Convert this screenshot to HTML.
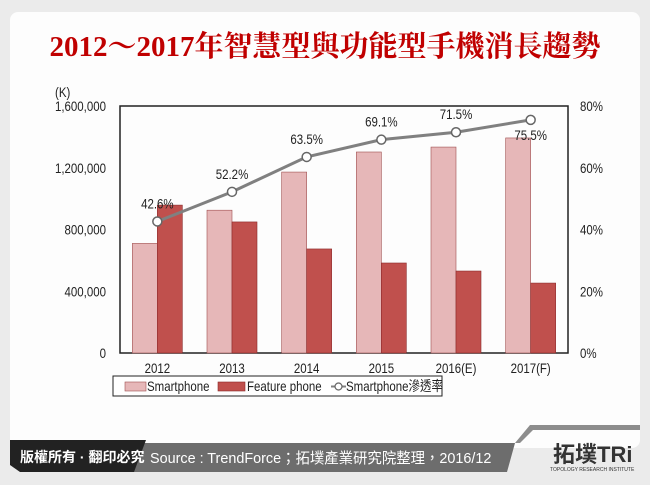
<!DOCTYPE html>
<html><head><meta charset="utf-8"><style>
body{margin:0;width:650px;height:485px;background:#ebebeb;overflow:hidden;font-family:"Liberation Sans","Noto Sans CJK TC",sans-serif}
#card{position:absolute;left:10px;top:12px;width:630px;height:436px;background:#fdfdfd;border-radius:8px}
#title{position:absolute;left:0;top:24px;width:650px;text-align:center;font-family:"Liberation Serif","Noto Serif CJK SC",serif;font-weight:bold;font-size:29px;color:#c00000}
svg text{font-family:"Liberation Sans","Noto Sans CJK TC",sans-serif}
</style></head><body>
<div id="card"></div>
<div id="title">2012～2017年智慧型與功能型手機消長趨勢</div>
<svg id="chart" width="650" height="485" style="position:absolute;left:0;top:0"></svg>
<script>
const categories=["2012","2013","2014","2015","2016(E)","2017(F)"];
const smartphone=[710000,925000,1172000,1302000,1334000,1393000];
const featurePhone=[958000,849000,674000,583000,531000,453000];
const penetration=[42.6,52.2,63.5,69.1,71.5,75.5];
const leftTicks=[0,400000,800000,1200000,1600000];
const rightTicks=[0,20,40,60,80];
const svg=document.getElementById('chart');const NS='http://www.w3.org/2000/svg';
const X0=120,X1=568,Y0=353,Y1=106;
const yL=v=>Y0-(v/1600000)*(Y0-Y1);
const yR=v=>Y0-(v/80)*(Y0-Y1);
const bw=(X1-X0)/categories.length;
const xc=i=>X0+bw*(i+0.5);
function el(t,a,p){const e=document.createElementNS(NS,t);for(const k in a)e.setAttribute(k,a[k]);(p||svg).appendChild(e);return e;}
function txt(x,y,s,anchor,p,size,sx){const e=el('text',{x:0,y:0,'text-anchor':anchor||'start','font-size':size||14,fill:'#222',transform:'translate('+x+','+y+') scale('+(sx||0.82)+',1)'},p);e.textContent=s;return e;}
const r=el('rect',{x:X0,y:Y1,width:X1-X0,height:Y0-Y1,fill:'none',stroke:'#222','stroke-width':1.5});


leftTicks.forEach(v=>{const t=txt(X0-14,yL(v)+5,v.toLocaleString('en-US'),'end');

});
rightTicks.forEach(v=>{const t=txt(X1+12,yR(v)+5,v+'%');

});
const u=txt(55,97,'(K)');


categories.forEach((c,i)=>{
 const w=25;
 const b1=el('rect',{x:xc(i)-w,y:yL(smartphone[i]),width:w,height:Y0-yL(smartphone[i]),fill:'#e6b7b8',stroke:'#a05050','stroke-width':0.6});
 
 
 const b2=el('rect',{x:xc(i),y:yL(featurePhone[i]),width:w,height:Y0-yL(featurePhone[i]),fill:'#c0504d',stroke:'#8b2a2a','stroke-width':0.6});
 
 
 const t=txt(xc(i),373,c,'middle');
 
 
});
const ln=el('polyline',{points:penetration.map((v,i)=>xc(i)+','+yR(v)).join(' '),fill:'none',stroke:'#808080','stroke-width':3});


penetration.forEach((v,i)=>{
 const c=el('circle',{cx:xc(i),cy:yR(v),r:4.5,fill:'#fff',stroke:'#666','stroke-width':1.5});
 
 
 const last=i===penetration.length-1;
 const t=txt(xc(i),last?yR(v)+20:yR(v)-13,v.toFixed(1)+'%','middle');
 
 
});
const lg=el('g',{});


el('rect',{x:113,y:376,width:329,height:20,fill:'#fff',stroke:'#222','stroke-width':1},lg);
el('rect',{x:125,y:382,width:21,height:9,fill:'#e6b7b8',stroke:'#a05050','stroke-width':0.6},lg);
txt(147,391,'Smartphone','start',lg);
el('rect',{x:218,y:382,width:27,height:9,fill:'#c0504d',stroke:'#8b2a2a','stroke-width':0.6},lg);
txt(247,391,'Feature phone','start',lg);
el('line',{x1:331,y1:386.5,x2:346,y2:386.5,stroke:'#808080','stroke-width':2},lg);
el('circle',{cx:338.5,cy:386.5,r:3.5,fill:'#fff',stroke:'#666','stroke-width':1.2},lg);
txt(346,391,'Smartphone滲透率','start',lg);
const ft=el('g',{});


el('polygon',{points:'140,443 515,443 507,472 130,472',fill:'#6d6d6d'},ft);
el('polygon',{points:'10,440 146,440 134,472 20,472 10,465',fill:'#222'},ft);
el('polygon',{points:'515,443 530,425 640,425 640,430 533,430 520,443',fill:'#8d8d8d'},ft);
let t=el('text',{x:20,y:462,'font-size':14,fill:'#fff','font-weight':'bold'},ft);t.textContent='版權所有 · 翻印必究';
t=el('text',{x:0,y:0,'font-size':15,fill:'#fff',transform:'translate(150,463) scale(0.96,1)'},ft);t.textContent='Source : TrendForce；拓墣產業研究院整理，2016/12';
t=el('text',{x:553,y:462,'font-size':22,fill:'#333','font-weight':'bold'},ft);t.textContent='拓墣TRi';
t=el('text',{x:550,y:471,'font-size':5,fill:'#333'},ft);t.textContent='TOPOLOGY RESEARCH INSTITUTE';
</script>
</body></html>
